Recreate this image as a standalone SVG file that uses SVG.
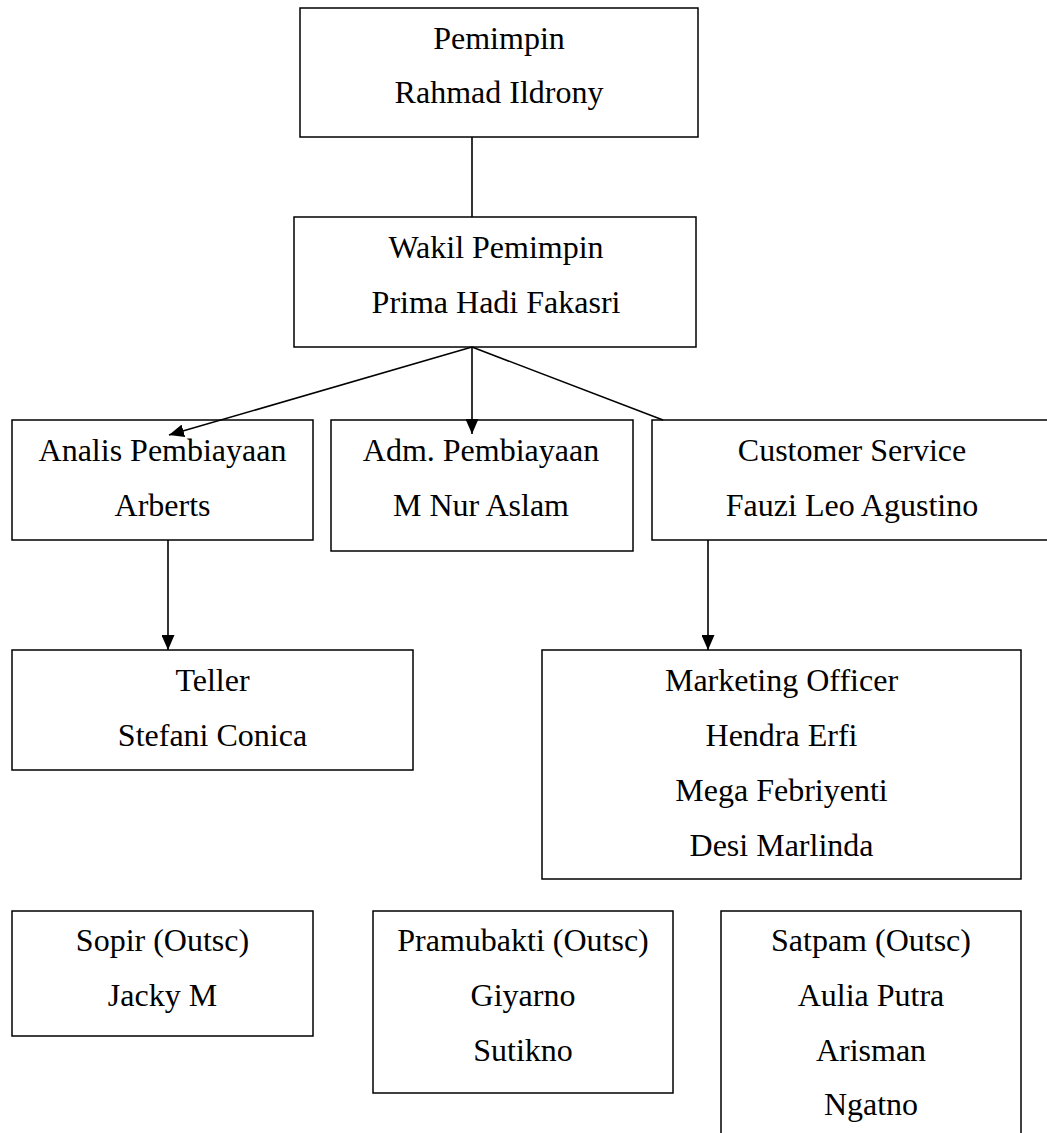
<svg xmlns="http://www.w3.org/2000/svg" width="1047" height="1133" viewBox="0 0 1047 1133">
<style>
.box{fill:#fff;stroke:#000;stroke-width:1.5}
.t{font-family:"Liberation Serif","Times New Roman",serif;font-size:32px;fill:#000;text-anchor:middle}
.c{stroke:#000;stroke-width:1.6;fill:none}
</style>
<defs>
<marker id="arr" markerUnits="userSpaceOnUse" markerWidth="15" markerHeight="13" refX="15" refY="6.5" orient="auto">
<path d="M0,0 L15,6.5 L0,13 z" fill="#000"/>
</marker>
</defs>
<rect width="1047" height="1133" fill="#fff"/>
<g id="pemimpin">
<rect class="box" x="300" y="8" width="398" height="129"/>
<text class="t" x="499" y="49">Pemimpin</text>
<text class="t" x="499" y="103">Rahmad Ildrony</text>
</g>
<g id="wakil">
<rect class="box" x="294" y="217" width="402" height="130"/>
<text class="t" x="496" y="258">Wakil Pemimpin</text>
<text class="t" x="496" y="313">Prima Hadi Fakasri</text>
</g>
<g id="analis">
<rect class="box" x="12" y="420" width="301" height="120"/>
<text class="t" x="162.5" y="461">Analis Pembiayaan</text>
<text class="t" x="162.5" y="516">Arberts</text>
</g>
<g id="adm">
<rect class="box" x="331" y="420" width="302" height="131"/>
<text class="t" x="481" y="461">Adm. Pembiayaan</text>
<text class="t" x="481" y="516">M Nur Aslam</text>
</g>
<g id="cs">
<rect class="box" x="652" y="420" width="400" height="120"/>
<text class="t" x="852" y="461">Customer Service</text>
<text class="t" x="852" y="516">Fauzi Leo Agustino</text>
</g>
<g id="teller">
<rect class="box" x="12" y="650" width="401" height="120"/>
<text class="t" x="212.5" y="691">Teller</text>
<text class="t" x="212.5" y="746">Stefani Conica</text>
</g>
<g id="marketing">
<rect class="box" x="542" y="650" width="479" height="229"/>
<text class="t" x="781.5" y="691">Marketing Officer</text>
<text class="t" x="781.5" y="746">Hendra Erfi</text>
<text class="t" x="781.5" y="801">Mega Febriyenti</text>
<text class="t" x="781.5" y="856">Desi Marlinda</text>
</g>
<g id="sopir">
<rect class="box" x="12" y="911" width="301" height="125"/>
<text class="t" x="162.5" y="951">Sopir (Outsc)</text>
<text class="t" x="162.5" y="1006">Jacky M</text>
</g>
<g id="pramubakti">
<rect class="box" x="373" y="911" width="300" height="182"/>
<text class="t" x="523" y="951">Pramubakti (Outsc)</text>
<text class="t" x="523" y="1006">Giyarno</text>
<text class="t" x="523" y="1061">Sutikno</text>
</g>
<g id="satpam">
<rect class="box" x="721" y="911" width="300" height="240"/>
<text class="t" x="871" y="951">Satpam (Outsc)</text>
<text class="t" x="871" y="1006">Aulia Putra</text>
<text class="t" x="871" y="1061">Arisman</text>
<text class="t" x="871" y="1115">Ngatno</text>
</g>
<g id="connectors">
<line class="c" x1="472" y1="137" x2="472" y2="217"/>
<line class="c" x1="472" y1="347" x2="169" y2="435" marker-end="url(#arr)"/>
<line class="c" x1="472" y1="347" x2="472" y2="434" marker-end="url(#arr)"/>
<line class="c" x1="472" y1="347" x2="663" y2="420"/>
<line class="c" x1="168" y1="540" x2="168" y2="650" marker-end="url(#arr)"/>
<line class="c" x1="708" y1="540" x2="708" y2="650" marker-end="url(#arr)"/>
</g>
</svg>
